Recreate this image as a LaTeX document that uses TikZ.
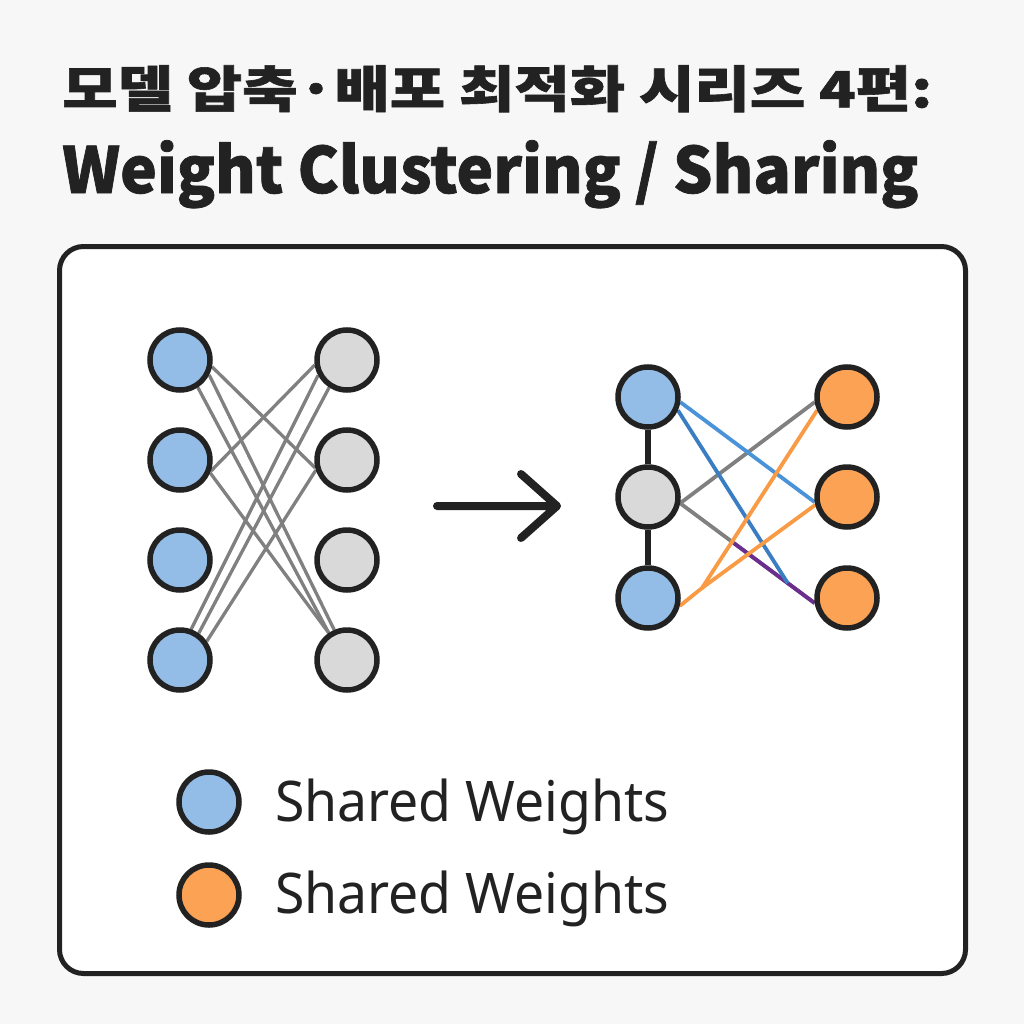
\documentclass[tikz,border=0pt]{standalone}
\usepackage{fontspec}
\setmainfont{Noto Sans}
\newfontfamily\kr{Noto Sans CJK KR}[BoldFeatures={FakeBold=1.2}]
\usepackage{graphicx}
\usetikzlibrary{backgrounds,calc}
\definecolor{bgc}{HTML}{F7F7F7}
\definecolor{ink}{HTML}{222222}
\definecolor{nblue}{HTML}{93BDE6}
\definecolor{ngray}{HTML}{D9D9D9}
\definecolor{norange}{HTML}{FBA254}
\definecolor{egray}{HTML}{808080}
\definecolor{eblue}{HTML}{4A93D8}
\definecolor{edblue}{HTML}{3A7DC2}
\definecolor{eorange}{HTML}{F99A45}
\definecolor{epurple}{HTML}{6B2D8E}
\begin{document}
\begin{tikzpicture}[x=1pt,y=-1pt,
  neuron/.style={circle,draw=ink,line width=5.5pt,minimum size=60pt,inner sep=0pt},
  bluen/.style={neuron,fill=nblue},
  grayn/.style={neuron,fill=ngray},
  orangen/.style={neuron,fill=norange},
  ledge/.style={draw=egray,line width=3.3pt},
  redge/.style={line width=3.8pt},
  txt/.style={inner sep=0pt,text=ink},
  ]
\useasboundingbox (0,0) rectangle (1024,1024);
% title
\node[txt,anchor=north west] (t1) at (62,65) {\resizebox*{870pt}{47pt}{\kr\bfseries 모델 압축·배포 최적화 시리즈 4편:}};
\node[txt,anchor=north west] (t2) at (62,140) {\resizebox*{856pt}{68pt}{\kr\bfseries Weight Clustering / Sharing}};
% left network
\node[bluen] (L1) at (180,360) {};
\node[bluen] (L2) at (180,460) {};
\node[bluen] (L3) at (180,560) {};
\node[bluen] (L4) at (180,660) {};
\node[grayn] (R1) at (347,360) {};
\node[grayn] (R2) at (347,460) {};
\node[grayn] (R3) at (347,560) {};
\node[grayn] (R4) at (347,660) {};
% right network
\node[bluen] (A1) at (648,397) {};
\node[grayn] (A2) at (648,497) {};
\node[bluen] (A3) at (648,598) {};
\node[orangen] (B1) at (847,397) {};
\node[orangen] (B2) at (847,497) {};
\node[orangen] (B3) at (847,598) {};
% arrow
\coordinate (arrS) at (437,506);
\coordinate (arrE) at (557,506);
\coordinate (arrU) at (521,474);
\coordinate (arrD) at (521,538);
\draw[ink,line width=8pt,line cap=round,line join=round] (arrS) -- (arrE) (arrU) -- (arrE) -- (arrD);
% legend
\node[bluen] (G1) at (209,802) {};
\node[orangen] (G2) at (209,895) {};
\node[txt,anchor=north west] (g1t) at (275,779) {\resizebox*{394pt}{56pt}{Shared Weights}};
\node[txt,anchor=north west] (g2t) at (275,871) {\resizebox*{394pt}{56pt}{Shared Weights}};
\begin{pgfonlayer}{background}
\fill[bgc] (0,0) rectangle (1024,1024);
\draw[ink,fill=white,line width=5pt,rounded corners=24pt] (59.5,246.5) rectangle (965.5,973.5);
% left edges
\draw[ledge] (L1.-12) -- (R2.194);
\draw[ledge] (L1.-27) -- (R4.113);
\draw[ledge] (L1.-57) -- (R4.124);
\draw[ledge] (L2.-20) -- (R1.189);
\draw[ledge] (L2.-23) -- (R4.124);
\draw[ledge] (L4.70) -- (R1.208);
\draw[ledge] (L4.55) -- (R1.237);
\draw[ledge] (L4.35) -- (R2.198);
% right edges
\draw[ink,line width=5.5pt] (A1) -- (A2) -- (A3);
\draw[redge,egray] (A2.-11) -- (B1.189);
\draw[redge,egray] (A2.-11) -- (B3.189);
\coordinate (pS) at ($(A2.-11)!0.4!(B3.189)$);
\coordinate (pE) at ($(A2.-11)!0.8!(B3.189)$);
\draw[redge,epurple] (pS) -- (B3.189);
\draw[redge,eblue] (A1.-9) -- (B2.189);
\draw[redge,edblue] (A1.-24) -- (pE);
\coordinate (fork) at (702,588);
\draw[redge,eorange] (A3.-14) -- (fork) -- (B1.204);
\draw[redge,eorange] (fork) -- (B2.194);
\end{pgfonlayer}
\end{tikzpicture}
\end{document}
